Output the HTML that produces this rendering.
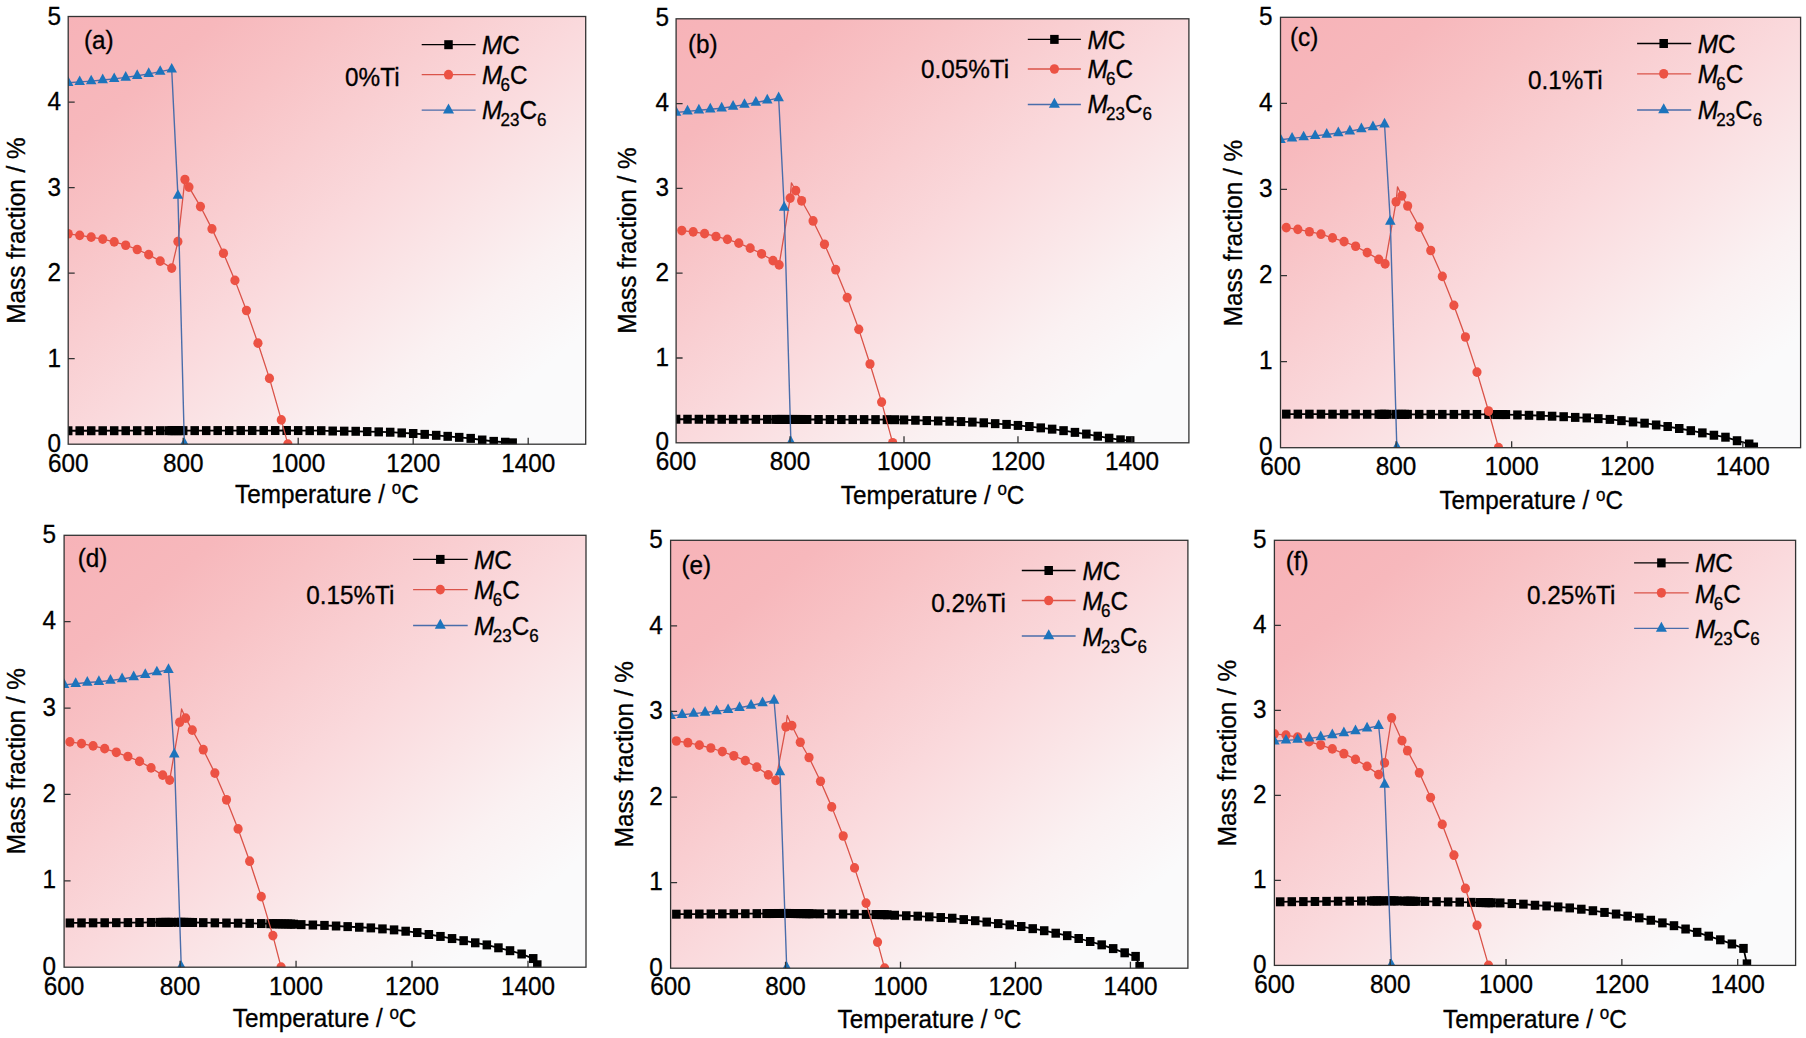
<!DOCTYPE html>
<html><head><meta charset="utf-8"><title>Mass fraction vs temperature</title>
<style>html,body{margin:0;padding:0;background:#fff;}svg{display:block;}</style></head>
<body><svg width="1806" height="1038" viewBox="0 0 1806 1038" font-family="'Liberation Sans', Arial, sans-serif" font-size="24.3" fill="#000">
<style>text{stroke:#000;stroke-width:0.3px;}</style>
<rect width="1806" height="1038" fill="#fff"/>
<defs><linearGradient id="ga" x1="0" y1="0" x2="1" y2="1"><stop offset="0" stop-color="#F7B3B8"/><stop offset="0.15" stop-color="#F7B8BC"/><stop offset="0.27" stop-color="#F8C3C6"/><stop offset="0.5" stop-color="#FAD9DC"/><stop offset="0.74" stop-color="#FAF1F2"/><stop offset="0.87" stop-color="#FAFAFB"/><stop offset="1" stop-color="#FAFAFB"/></linearGradient><clipPath id="ca"><rect x="68.2" y="16.5" width="517.5" height="427.7"/></clipPath></defs>
<rect x="68.2" y="16.5" width="517.5" height="427.7" fill="url(#ga)"/>
<g clip-path="url(#ca)">
<polyline fill="none" stroke="#000" stroke-width="1.8" points="68.2,430.77 79.7,430.76 91.2,430.74 102.7,430.73 114.2,430.72 125.7,430.7 137.2,430.69 148.7,430.68 160.2,430.66 168.82,430.65 171.7,430.65 174.57,430.65 177.45,430.64 180.32,430.64 183.2,430.64 194.7,430.62 206.2,430.61 217.7,430.59 229.2,430.58 240.7,430.57 252.2,430.55 263.7,430.54 275.2,430.53 286.7,430.51 298.2,430.57 309.7,430.63 321.2,430.68 332.7,431.03 344.2,431.16 355.7,431.28 367.2,431.58 378.7,431.88 390.2,432.22 401.7,432.91 413.2,433.51 424.7,434.36 436.2,435.3 447.7,436.33 459.2,437.36 470.7,438.38 482.2,440.01 493.7,441.38 505.2,442.23 512.67,442.83"/>
<g fill="#000"><rect x="63.95" y="426.27" width="8.5" height="9"/><rect x="75.45" y="426.26" width="8.5" height="9"/><rect x="86.95" y="426.24" width="8.5" height="9"/><rect x="98.45" y="426.23" width="8.5" height="9"/><rect x="109.95" y="426.22" width="8.5" height="9"/><rect x="121.45" y="426.2" width="8.5" height="9"/><rect x="132.95" y="426.19" width="8.5" height="9"/><rect x="144.45" y="426.18" width="8.5" height="9"/><rect x="155.95" y="426.16" width="8.5" height="9"/><rect x="164.57" y="426.15" width="8.5" height="9"/><rect x="167.45" y="426.15" width="8.5" height="9"/><rect x="170.32" y="426.15" width="8.5" height="9"/><rect x="173.2" y="426.14" width="8.5" height="9"/><rect x="176.07" y="426.14" width="8.5" height="9"/><rect x="178.95" y="426.14" width="8.5" height="9"/><rect x="190.45" y="426.12" width="8.5" height="9"/><rect x="201.95" y="426.11" width="8.5" height="9"/><rect x="213.45" y="426.09" width="8.5" height="9"/><rect x="224.95" y="426.08" width="8.5" height="9"/><rect x="236.45" y="426.07" width="8.5" height="9"/><rect x="247.95" y="426.05" width="8.5" height="9"/><rect x="259.45" y="426.04" width="8.5" height="9"/><rect x="270.95" y="426.03" width="8.5" height="9"/><rect x="282.45" y="426.01" width="8.5" height="9"/><rect x="293.95" y="426.07" width="8.5" height="9"/><rect x="305.45" y="426.13" width="8.5" height="9"/><rect x="316.95" y="426.18" width="8.5" height="9"/><rect x="328.45" y="426.53" width="8.5" height="9"/><rect x="339.95" y="426.66" width="8.5" height="9"/><rect x="351.45" y="426.78" width="8.5" height="9"/><rect x="362.95" y="427.08" width="8.5" height="9"/><rect x="374.45" y="427.38" width="8.5" height="9"/><rect x="385.95" y="427.72" width="8.5" height="9"/><rect x="397.45" y="428.41" width="8.5" height="9"/><rect x="408.95" y="429.01" width="8.5" height="9"/><rect x="420.45" y="429.86" width="8.5" height="9"/><rect x="431.95" y="430.8" width="8.5" height="9"/><rect x="443.45" y="431.83" width="8.5" height="9"/><rect x="454.95" y="432.86" width="8.5" height="9"/><rect x="466.45" y="433.88" width="8.5" height="9"/><rect x="477.95" y="435.51" width="8.5" height="9"/><rect x="489.45" y="436.88" width="8.5" height="9"/><rect x="500.95" y="437.73" width="8.5" height="9"/><rect x="508.42" y="438.33" width="8.5" height="9"/></g>
<polyline fill="none" stroke="#DA5349" stroke-width="1.3" stroke-linejoin="round" points="68.2,233.77 79.7,235.31 91.2,237.19 102.7,239.08 114.2,241.81 125.7,245.23 137.2,249.51 148.7,254.64 160.2,261.06 171.7,268.07 177.91,241.56 184.93,179.54 188.95,187.07 200.45,206.57 211.95,228.9 223.45,253.27 234.95,280.39 246.45,310.5 257.95,343.18 269.45,378.42 281.3,419.91 287.85,444.2"/>
<g fill="#EC5244"><ellipse cx="68.2" cy="233.77" rx="4.6" ry="4.85"/><ellipse cx="79.7" cy="235.31" rx="4.6" ry="4.85"/><ellipse cx="91.2" cy="237.19" rx="4.6" ry="4.85"/><ellipse cx="102.7" cy="239.08" rx="4.6" ry="4.85"/><ellipse cx="114.2" cy="241.81" rx="4.6" ry="4.85"/><ellipse cx="125.7" cy="245.23" rx="4.6" ry="4.85"/><ellipse cx="137.2" cy="249.51" rx="4.6" ry="4.85"/><ellipse cx="148.7" cy="254.64" rx="4.6" ry="4.85"/><ellipse cx="160.2" cy="261.06" rx="4.6" ry="4.85"/><ellipse cx="171.7" cy="268.07" rx="4.6" ry="4.85"/><ellipse cx="177.91" cy="241.56" rx="4.6" ry="4.85"/><ellipse cx="184.93" cy="179.54" rx="4.6" ry="4.85"/><ellipse cx="188.95" cy="187.07" rx="4.6" ry="4.85"/><ellipse cx="200.45" cy="206.57" rx="4.6" ry="4.85"/><ellipse cx="211.95" cy="228.9" rx="4.6" ry="4.85"/><ellipse cx="223.45" cy="253.27" rx="4.6" ry="4.85"/><ellipse cx="234.95" cy="280.39" rx="4.6" ry="4.85"/><ellipse cx="246.45" cy="310.5" rx="4.6" ry="4.85"/><ellipse cx="257.95" cy="343.18" rx="4.6" ry="4.85"/><ellipse cx="269.45" cy="378.42" rx="4.6" ry="4.85"/><ellipse cx="281.3" cy="419.91" rx="4.6" ry="4.85"/><ellipse cx="287.85" cy="444.2" rx="4.6" ry="4.85"/></g>
<polyline fill="none" stroke="#4A6DAA" stroke-width="1.4" points="68.2,82.73 79.7,81.87 91.2,81.1 102.7,80.07 114.2,78.88 125.7,77.42 137.2,75.8 148.7,73.83 160.2,71.61 171.7,69.38 177.91,195.64 184.35,443.68"/>
<g fill="#1D74BC"><path d="M68.2 76.26L73.45 85.96L62.95 85.96Z"/><path d="M79.7 75.4L84.95 85.1L74.45 85.1Z"/><path d="M91.2 74.63L96.45 84.33L85.95 84.33Z"/><path d="M102.7 73.61L107.95 83.31L97.45 83.31Z"/><path d="M114.2 72.41L119.45 82.11L108.95 82.11Z"/><path d="M125.7 70.96L130.95 80.66L120.45 80.66Z"/><path d="M137.2 69.33L142.45 79.03L131.95 79.03Z"/><path d="M148.7 67.36L153.95 77.06L143.45 77.06Z"/><path d="M160.2 65.14L165.45 74.84L154.95 74.84Z"/><path d="M171.7 62.91L176.95 72.61L166.45 72.61Z"/><path d="M177.91 189.17L183.16 198.87L172.66 198.87Z"/><path d="M184.35 437.21L189.6 446.91L179.1 446.91Z"/></g>
</g>
<path d="M183.2 444.2V437.7 M298.2 444.2V437.7 M413.2 444.2V437.7 M528.2 444.2V437.7 M68.2 358.66H74.7 M68.2 273.12H74.7 M68.2 187.58H74.7 M68.2 102.04H74.7" stroke="#333333" stroke-width="1.3" fill="none"/>
<rect x="68.2" y="16.5" width="517.5" height="427.7" fill="none" stroke="#333333" stroke-width="1.3"/>
<g><text transform="translate(61,452.4) scale(1,1.04)" text-anchor="end">0</text><text transform="translate(61,366.86) scale(1,1.04)" text-anchor="end">1</text><text transform="translate(61,281.32) scale(1,1.04)" text-anchor="end">2</text><text transform="translate(61,195.78) scale(1,1.04)" text-anchor="end">3</text><text transform="translate(61,110.24) scale(1,1.04)" text-anchor="end">4</text><text transform="translate(61,24.7) scale(1,1.04)" text-anchor="end">5</text><text transform="translate(68.2,471.9) scale(1,1.04)" text-anchor="middle">600</text><text transform="translate(183.2,471.9) scale(1,1.04)" text-anchor="middle">800</text><text transform="translate(298.2,471.9) scale(1,1.04)" text-anchor="middle">1000</text><text transform="translate(413.2,471.9) scale(1,1.04)" text-anchor="middle">1200</text><text transform="translate(528.2,471.9) scale(1,1.04)" text-anchor="middle">1400</text></g>
<text transform="translate(326.9,502.7) scale(1,1.04)" text-anchor="middle">Temperature / <tspan font-size="17" dy="-8">o</tspan><tspan dy="8">C</tspan></text>
<text transform="translate(25,230.6) rotate(-90) scale(1,1.04)" text-anchor="middle">Mass fraction / %</text>
<text transform="translate(84,48.5) scale(1,1.04)">(a)</text>
<text transform="translate(345.1,85.9) scale(1,1.04)">0%Ti</text>
<line x1="421.7" y1="44.7" x2="475.6" y2="44.7" stroke="#000000" stroke-width="1.3"/>
<g fill="#000"><rect x="444.25" y="40.2" width="8.5" height="9"/></g>
<line x1="421.7" y1="74.7" x2="475.6" y2="74.7" stroke="#DA5349" stroke-width="1.3"/>
<g fill="#EC5244"><ellipse cx="448.5" cy="74.7" rx="4.6" ry="4.85"/></g>
<line x1="421.7" y1="110.1" x2="475.6" y2="110.1" stroke="#4A6DAA" stroke-width="1.3"/>
<g fill="#1D74BC"><path d="M448.5 103.43L454 113.43L443 113.43Z"/></g>
<text transform="translate(481.9,53.6) scale(1,1.04)"><tspan font-style="italic">M</tspan>C</text>
<text transform="translate(481.9,83.8) scale(1,1.04)"><tspan font-style="italic">M</tspan><tspan font-size="17" dx="-1.6" dy="6.8">6</tspan><tspan dy="-6.8">C</tspan></text>
<text transform="translate(481.9,119.4) scale(1,1.04)"><tspan font-style="italic">M</tspan><tspan font-size="17" dx="-1.6" dy="6.8">23</tspan><tspan dy="-6.8">C</tspan><tspan font-size="17" dy="6.8">6</tspan></text>
<defs><linearGradient id="gb" x1="0" y1="0" x2="1" y2="1"><stop offset="0" stop-color="#F7B3B8"/><stop offset="0.15" stop-color="#F7B8BC"/><stop offset="0.27" stop-color="#F8C3C6"/><stop offset="0.5" stop-color="#FAD9DC"/><stop offset="0.74" stop-color="#FAF1F2"/><stop offset="0.87" stop-color="#FAFAFB"/><stop offset="1" stop-color="#FAFAFB"/></linearGradient><clipPath id="cb"><rect x="676.1" y="18.8" width="512.8" height="424"/></clipPath></defs>
<rect x="676.1" y="18.8" width="512.8" height="424" fill="url(#gb)"/>
<g clip-path="url(#cb)">
<polyline fill="none" stroke="#000" stroke-width="1.8" points="676.1,419.23 687.5,419.25 698.89,419.27 710.29,419.29 721.68,419.31 733.08,419.34 744.47,419.36 755.87,419.38 767.26,419.4 775.81,419.42 778.66,419.43 781.51,419.43 784.36,419.44 787.21,419.44 790.06,419.45 792.9,419.45 795.75,419.46 798.6,419.47 801.45,419.47 807.15,419.48 818.54,419.5 829.94,419.53 841.34,419.55 852.73,419.57 864.13,419.59 875.52,419.62 886.92,419.64 894.89,419.7 904.01,419.9 915.41,420.24 926.8,420.58 938.2,420.92 949.59,421.26 960.99,421.6 972.38,422.11 983.78,422.79 995.18,423.64 1006.57,424.4 1017.97,425.42 1029.36,426.52 1040.76,427.88 1052.15,429.15 1063.55,430.67 1074.94,432.37 1086.34,434.07 1097.74,436.19 1109.13,438.22 1120.53,439.83 1130.21,440.68"/>
<g fill="#000"><rect x="671.85" y="414.73" width="8.5" height="9"/><rect x="683.25" y="414.75" width="8.5" height="9"/><rect x="694.64" y="414.77" width="8.5" height="9"/><rect x="706.04" y="414.79" width="8.5" height="9"/><rect x="717.43" y="414.81" width="8.5" height="9"/><rect x="728.83" y="414.84" width="8.5" height="9"/><rect x="740.22" y="414.86" width="8.5" height="9"/><rect x="751.62" y="414.88" width="8.5" height="9"/><rect x="763.01" y="414.9" width="8.5" height="9"/><rect x="771.56" y="414.92" width="8.5" height="9"/><rect x="774.41" y="414.93" width="8.5" height="9"/><rect x="777.26" y="414.93" width="8.5" height="9"/><rect x="780.11" y="414.94" width="8.5" height="9"/><rect x="782.96" y="414.94" width="8.5" height="9"/><rect x="785.81" y="414.95" width="8.5" height="9"/><rect x="788.65" y="414.95" width="8.5" height="9"/><rect x="791.5" y="414.96" width="8.5" height="9"/><rect x="794.35" y="414.97" width="8.5" height="9"/><rect x="797.2" y="414.97" width="8.5" height="9"/><rect x="802.9" y="414.98" width="8.5" height="9"/><rect x="814.29" y="415" width="8.5" height="9"/><rect x="825.69" y="415.03" width="8.5" height="9"/><rect x="837.09" y="415.05" width="8.5" height="9"/><rect x="848.48" y="415.07" width="8.5" height="9"/><rect x="859.88" y="415.09" width="8.5" height="9"/><rect x="871.27" y="415.12" width="8.5" height="9"/><rect x="882.67" y="415.14" width="8.5" height="9"/><rect x="890.64" y="415.2" width="8.5" height="9"/><rect x="899.76" y="415.4" width="8.5" height="9"/><rect x="911.16" y="415.74" width="8.5" height="9"/><rect x="922.55" y="416.08" width="8.5" height="9"/><rect x="933.95" y="416.42" width="8.5" height="9"/><rect x="945.34" y="416.76" width="8.5" height="9"/><rect x="956.74" y="417.1" width="8.5" height="9"/><rect x="968.13" y="417.61" width="8.5" height="9"/><rect x="979.53" y="418.29" width="8.5" height="9"/><rect x="990.93" y="419.14" width="8.5" height="9"/><rect x="1002.32" y="419.9" width="8.5" height="9"/><rect x="1013.72" y="420.92" width="8.5" height="9"/><rect x="1025.11" y="422.02" width="8.5" height="9"/><rect x="1036.51" y="423.38" width="8.5" height="9"/><rect x="1047.9" y="424.65" width="8.5" height="9"/><rect x="1059.3" y="426.17" width="8.5" height="9"/><rect x="1070.69" y="427.87" width="8.5" height="9"/><rect x="1082.09" y="429.57" width="8.5" height="9"/><rect x="1093.49" y="431.69" width="8.5" height="9"/><rect x="1104.88" y="433.72" width="8.5" height="9"/><rect x="1116.28" y="435.33" width="8.5" height="9"/><rect x="1125.96" y="436.18" width="8.5" height="9"/></g>
<polyline fill="none" stroke="#DA5349" stroke-width="1.3" stroke-linejoin="round" points="681.8,230.55 693.19,231.82 704.59,233.68 715.98,236.48 727.38,239.36 738.78,243.18 750.17,248.1 761.57,253.78 772.96,260.56 779.12,264.89 790.17,198.07 791.42,182.8 795.75,190.69 801.62,200.78 813.07,220.96 824.47,244.28 835.69,269.72 847.2,297.62 858.77,329.34 870,364.02 881.62,402.1 892.67,442.8"/>
<g fill="#EC5244"><ellipse cx="681.8" cy="230.55" rx="4.6" ry="4.85"/><ellipse cx="693.19" cy="231.82" rx="4.6" ry="4.85"/><ellipse cx="704.59" cy="233.68" rx="4.6" ry="4.85"/><ellipse cx="715.98" cy="236.48" rx="4.6" ry="4.85"/><ellipse cx="727.38" cy="239.36" rx="4.6" ry="4.85"/><ellipse cx="738.78" cy="243.18" rx="4.6" ry="4.85"/><ellipse cx="750.17" cy="248.1" rx="4.6" ry="4.85"/><ellipse cx="761.57" cy="253.78" rx="4.6" ry="4.85"/><ellipse cx="772.96" cy="260.56" rx="4.6" ry="4.85"/><ellipse cx="779.12" cy="264.89" rx="4.6" ry="4.85"/><ellipse cx="790.17" cy="198.07" rx="4.6" ry="4.85"/><ellipse cx="795.75" cy="190.69" rx="4.6" ry="4.85"/><ellipse cx="801.62" cy="200.78" rx="4.6" ry="4.85"/><ellipse cx="813.07" cy="220.96" rx="4.6" ry="4.85"/><ellipse cx="824.47" cy="244.28" rx="4.6" ry="4.85"/><ellipse cx="835.69" cy="269.72" rx="4.6" ry="4.85"/><ellipse cx="847.2" cy="297.62" rx="4.6" ry="4.85"/><ellipse cx="858.77" cy="329.34" rx="4.6" ry="4.85"/><ellipse cx="870" cy="364.02" rx="4.6" ry="4.85"/><ellipse cx="881.62" cy="402.1" rx="4.6" ry="4.85"/><ellipse cx="892.67" cy="442.8" rx="4.6" ry="4.85"/></g>
<polyline fill="none" stroke="#4A6DAA" stroke-width="1.4" points="676.1,112.44 687.5,111.34 698.89,110.32 710.29,109.22 721.68,108.2 733.08,106.51 744.47,104.64 755.87,102.44 767.26,100.32 778.66,98.03 784.19,207.42 790.91,442.3"/>
<g fill="#1D74BC"><path d="M676.1 105.98L681.35 115.68L670.85 115.68Z"/><path d="M687.5 104.87L692.75 114.57L682.25 114.57Z"/><path d="M698.89 103.86L704.14 113.56L693.64 113.56Z"/><path d="M710.29 102.75L715.54 112.45L705.04 112.45Z"/><path d="M721.68 101.74L726.93 111.44L716.43 111.44Z"/><path d="M733.08 100.04L738.33 109.74L727.83 109.74Z"/><path d="M744.47 98.17L749.72 107.87L739.22 107.87Z"/><path d="M755.87 95.97L761.12 105.67L750.62 105.67Z"/><path d="M767.26 93.85L772.51 103.55L762.01 103.55Z"/><path d="M778.66 91.56L783.91 101.26L773.41 101.26Z"/><path d="M784.19 200.95L789.44 210.65L778.94 210.65Z"/><path d="M790.91 435.83L796.16 445.53L785.66 445.53Z"/></g>
</g>
<path d="M790.06 442.8V436.3 M904.01 442.8V436.3 M1017.97 442.8V436.3 M1131.92 442.8V436.3 M676.1 358H682.6 M676.1 273.2H682.6 M676.1 188.4H682.6 M676.1 103.6H682.6" stroke="#333333" stroke-width="1.3" fill="none"/>
<rect x="676.1" y="18.8" width="512.8" height="424" fill="none" stroke="#333333" stroke-width="1.3"/>
<g><text transform="translate(669,450.4) scale(1,1.04)" text-anchor="end">0</text><text transform="translate(669,365.6) scale(1,1.04)" text-anchor="end">1</text><text transform="translate(669,280.8) scale(1,1.04)" text-anchor="end">2</text><text transform="translate(669,196) scale(1,1.04)" text-anchor="end">3</text><text transform="translate(669,111.2) scale(1,1.04)" text-anchor="end">4</text><text transform="translate(669,26.4) scale(1,1.04)" text-anchor="end">5</text><text transform="translate(676.1,469.7) scale(1,1.04)" text-anchor="middle">600</text><text transform="translate(790.06,469.7) scale(1,1.04)" text-anchor="middle">800</text><text transform="translate(904.01,469.7) scale(1,1.04)" text-anchor="middle">1000</text><text transform="translate(1017.97,469.7) scale(1,1.04)" text-anchor="middle">1200</text><text transform="translate(1131.92,469.7) scale(1,1.04)" text-anchor="middle">1400</text></g>
<text transform="translate(932.6,503.5) scale(1,1.04)" text-anchor="middle">Temperature / <tspan font-size="17" dy="-8">o</tspan><tspan dy="8">C</tspan></text>
<text transform="translate(636.4,240.5) rotate(-90) scale(1,1.04)" text-anchor="middle">Mass fraction / %</text>
<text transform="translate(688,53.1) scale(1,1.04)">(b)</text>
<text transform="translate(920.9,78.3) scale(1,1.04)">0.05%Ti</text>
<line x1="1027.8" y1="39.4" x2="1080.9" y2="39.4" stroke="#000000" stroke-width="1.3"/>
<g fill="#000"><rect x="1050.15" y="34.9" width="8.5" height="9"/></g>
<line x1="1027.8" y1="69" x2="1080.9" y2="69" stroke="#DA5349" stroke-width="1.3"/>
<g fill="#EC5244"><ellipse cx="1054.4" cy="69" rx="4.6" ry="4.85"/></g>
<line x1="1027.8" y1="104.5" x2="1080.9" y2="104.5" stroke="#4A6DAA" stroke-width="1.3"/>
<g fill="#1D74BC"><path d="M1054.4 97.83L1059.9 107.83L1048.9 107.83Z"/></g>
<text transform="translate(1087.4,48.5) scale(1,1.04)"><tspan font-style="italic">M</tspan>C</text>
<text transform="translate(1087.4,78.1) scale(1,1.04)"><tspan font-style="italic">M</tspan><tspan font-size="17" dx="-1.6" dy="6.8">6</tspan><tspan dy="-6.8">C</tspan></text>
<text transform="translate(1087.4,112.7) scale(1,1.04)"><tspan font-style="italic">M</tspan><tspan font-size="17" dx="-1.6" dy="6.8">23</tspan><tspan dy="-6.8">C</tspan><tspan font-size="17" dy="6.8">6</tspan></text>
<defs><linearGradient id="gc" x1="0" y1="0" x2="1" y2="1"><stop offset="0" stop-color="#F7B3B8"/><stop offset="0.15" stop-color="#F7B8BC"/><stop offset="0.27" stop-color="#F8C3C6"/><stop offset="0.5" stop-color="#FAD9DC"/><stop offset="0.74" stop-color="#FAF1F2"/><stop offset="0.87" stop-color="#FAFAFB"/><stop offset="1" stop-color="#FAFAFB"/></linearGradient><clipPath id="cc"><rect x="1280.5" y="17.3" width="520.1" height="430.4"/></clipPath></defs>
<rect x="1280.5" y="17.3" width="520.1" height="430.4" fill="url(#gc)"/>
<g clip-path="url(#cc)">
<polyline fill="none" stroke="#000" stroke-width="1.8" points="1286.28,414.13 1297.84,414.15 1309.39,414.17 1320.95,414.19 1332.51,414.21 1344.07,414.23 1355.63,414.25 1367.18,414.27 1378.74,414.29 1381.63,414.29 1384.52,414.3 1387.41,414.3 1396.08,414.32 1398.97,414.32 1401.86,414.33 1404.75,414.33 1407.64,414.34 1419.19,414.36 1430.75,414.37 1442.31,414.39 1453.87,414.41 1465.42,414.43 1476.98,414.45 1488.54,414.47 1497.21,414.52 1500.1,414.53 1502.99,414.54 1505.88,414.56 1517.43,414.92 1528.99,415.27 1540.55,415.7 1552.11,416.22 1563.67,416.71 1575.22,417.4 1586.78,417.95 1598.34,418.64 1609.9,419.38 1621.45,420.67 1633.01,421.94 1644.57,423.17 1656.13,424.97 1667.69,426.52 1679.24,428.5 1690.8,430.66 1702.36,432.89 1713.92,435.22 1725.47,437.2 1737.03,440.73 1749.17,444 1753.79,447.01"/>
<g fill="#000"><rect x="1282.03" y="409.63" width="8.5" height="9"/><rect x="1293.59" y="409.65" width="8.5" height="9"/><rect x="1305.14" y="409.67" width="8.5" height="9"/><rect x="1316.7" y="409.69" width="8.5" height="9"/><rect x="1328.26" y="409.71" width="8.5" height="9"/><rect x="1339.82" y="409.73" width="8.5" height="9"/><rect x="1351.38" y="409.75" width="8.5" height="9"/><rect x="1362.93" y="409.77" width="8.5" height="9"/><rect x="1374.49" y="409.79" width="8.5" height="9"/><rect x="1377.38" y="409.79" width="8.5" height="9"/><rect x="1380.27" y="409.8" width="8.5" height="9"/><rect x="1383.16" y="409.8" width="8.5" height="9"/><rect x="1391.83" y="409.82" width="8.5" height="9"/><rect x="1394.72" y="409.82" width="8.5" height="9"/><rect x="1397.61" y="409.83" width="8.5" height="9"/><rect x="1400.5" y="409.83" width="8.5" height="9"/><rect x="1403.39" y="409.84" width="8.5" height="9"/><rect x="1414.94" y="409.86" width="8.5" height="9"/><rect x="1426.5" y="409.87" width="8.5" height="9"/><rect x="1438.06" y="409.89" width="8.5" height="9"/><rect x="1449.62" y="409.91" width="8.5" height="9"/><rect x="1461.17" y="409.93" width="8.5" height="9"/><rect x="1472.73" y="409.95" width="8.5" height="9"/><rect x="1484.29" y="409.97" width="8.5" height="9"/><rect x="1492.96" y="410.02" width="8.5" height="9"/><rect x="1495.85" y="410.03" width="8.5" height="9"/><rect x="1498.74" y="410.04" width="8.5" height="9"/><rect x="1501.63" y="410.06" width="8.5" height="9"/><rect x="1513.18" y="410.42" width="8.5" height="9"/><rect x="1524.74" y="410.77" width="8.5" height="9"/><rect x="1536.3" y="411.2" width="8.5" height="9"/><rect x="1547.86" y="411.72" width="8.5" height="9"/><rect x="1559.42" y="412.21" width="8.5" height="9"/><rect x="1570.97" y="412.9" width="8.5" height="9"/><rect x="1582.53" y="413.45" width="8.5" height="9"/><rect x="1594.09" y="414.14" width="8.5" height="9"/><rect x="1605.65" y="414.88" width="8.5" height="9"/><rect x="1617.2" y="416.17" width="8.5" height="9"/><rect x="1628.76" y="417.44" width="8.5" height="9"/><rect x="1640.32" y="418.67" width="8.5" height="9"/><rect x="1651.88" y="420.47" width="8.5" height="9"/><rect x="1663.44" y="422.02" width="8.5" height="9"/><rect x="1674.99" y="424" width="8.5" height="9"/><rect x="1686.55" y="426.16" width="8.5" height="9"/><rect x="1698.11" y="428.39" width="8.5" height="9"/><rect x="1709.67" y="430.72" width="8.5" height="9"/><rect x="1721.22" y="432.7" width="8.5" height="9"/><rect x="1732.78" y="436.23" width="8.5" height="9"/><rect x="1744.92" y="439.5" width="8.5" height="9"/><rect x="1749.54" y="442.51" width="8.5" height="9"/></g>
<polyline fill="none" stroke="#DA5349" stroke-width="1.3" stroke-linejoin="round" points="1286.28,227.59 1297.84,229.32 1309.39,231.73 1320.95,234.22 1332.51,237.84 1344.07,241.62 1355.63,246.27 1367.18,252.56 1378.74,259.36 1385.1,263.92 1396.08,201.77 1397.52,186.88 1401.86,195.83 1407.64,205.99 1419.19,227.16 1430.75,250.49 1442.31,276.4 1453.87,305.41 1465.42,337 1476.98,372.12 1488.54,411.03 1498.48,447.7"/>
<g fill="#EC5244"><ellipse cx="1286.28" cy="227.59" rx="4.6" ry="4.85"/><ellipse cx="1297.84" cy="229.32" rx="4.6" ry="4.85"/><ellipse cx="1309.39" cy="231.73" rx="4.6" ry="4.85"/><ellipse cx="1320.95" cy="234.22" rx="4.6" ry="4.85"/><ellipse cx="1332.51" cy="237.84" rx="4.6" ry="4.85"/><ellipse cx="1344.07" cy="241.62" rx="4.6" ry="4.85"/><ellipse cx="1355.63" cy="246.27" rx="4.6" ry="4.85"/><ellipse cx="1367.18" cy="252.56" rx="4.6" ry="4.85"/><ellipse cx="1378.74" cy="259.36" rx="4.6" ry="4.85"/><ellipse cx="1385.1" cy="263.92" rx="4.6" ry="4.85"/><ellipse cx="1396.08" cy="201.77" rx="4.6" ry="4.85"/><ellipse cx="1401.86" cy="195.83" rx="4.6" ry="4.85"/><ellipse cx="1407.64" cy="205.99" rx="4.6" ry="4.85"/><ellipse cx="1419.19" cy="227.16" rx="4.6" ry="4.85"/><ellipse cx="1430.75" cy="250.49" rx="4.6" ry="4.85"/><ellipse cx="1442.31" cy="276.4" rx="4.6" ry="4.85"/><ellipse cx="1453.87" cy="305.41" rx="4.6" ry="4.85"/><ellipse cx="1465.42" cy="337" rx="4.6" ry="4.85"/><ellipse cx="1476.98" cy="372.12" rx="4.6" ry="4.85"/><ellipse cx="1488.54" cy="411.03" rx="4.6" ry="4.85"/><ellipse cx="1498.48" cy="447.7" rx="4.6" ry="4.85"/></g>
<polyline fill="none" stroke="#4A6DAA" stroke-width="1.4" points="1280.5,139.81 1292.06,138.34 1303.62,137.14 1315.17,135.85 1326.73,134.56 1338.29,133.01 1349.85,131.28 1361.4,129.05 1372.96,126.89 1384.52,124.31 1390.3,221.41 1396.83,447.16"/>
<g fill="#1D74BC"><path d="M1280.5 133.34L1285.75 143.04L1275.25 143.04Z"/><path d="M1292.06 131.88L1297.31 141.58L1286.81 141.58Z"/><path d="M1303.62 130.67L1308.87 140.37L1298.37 140.37Z"/><path d="M1315.17 129.38L1320.42 139.08L1309.92 139.08Z"/><path d="M1326.73 128.09L1331.98 137.79L1321.48 137.79Z"/><path d="M1338.29 126.54L1343.54 136.24L1333.04 136.24Z"/><path d="M1349.85 124.82L1355.1 134.52L1344.6 134.52Z"/><path d="M1361.4 122.58L1366.65 132.28L1356.15 132.28Z"/><path d="M1372.96 120.43L1378.21 130.13L1367.71 130.13Z"/><path d="M1384.52 117.84L1389.77 127.54L1379.27 127.54Z"/><path d="M1390.3 214.94L1395.55 224.64L1385.05 224.64Z"/><path d="M1396.83 440.7L1402.08 450.4L1391.58 450.4Z"/></g>
</g>
<path d="M1396.08 447.7V441.2 M1511.66 447.7V441.2 M1627.23 447.7V441.2 M1742.81 447.7V441.2 M1280.5 361.62H1287 M1280.5 275.54H1287 M1280.5 189.46H1287 M1280.5 103.38H1287" stroke="#333333" stroke-width="1.3" fill="none"/>
<rect x="1280.5" y="17.3" width="520.1" height="430.4" fill="none" stroke="#333333" stroke-width="1.3"/>
<g><text transform="translate(1272.5,455.4) scale(1,1.04)" text-anchor="end">0</text><text transform="translate(1272.5,369.32) scale(1,1.04)" text-anchor="end">1</text><text transform="translate(1272.5,283.24) scale(1,1.04)" text-anchor="end">2</text><text transform="translate(1272.5,197.16) scale(1,1.04)" text-anchor="end">3</text><text transform="translate(1272.5,111.08) scale(1,1.04)" text-anchor="end">4</text><text transform="translate(1272.5,25) scale(1,1.04)" text-anchor="end">5</text><text transform="translate(1280.5,475.3) scale(1,1.04)" text-anchor="middle">600</text><text transform="translate(1396.08,475.3) scale(1,1.04)" text-anchor="middle">800</text><text transform="translate(1511.66,475.3) scale(1,1.04)" text-anchor="middle">1000</text><text transform="translate(1627.23,475.3) scale(1,1.04)" text-anchor="middle">1200</text><text transform="translate(1742.81,475.3) scale(1,1.04)" text-anchor="middle">1400</text></g>
<text transform="translate(1531.2,509.1) scale(1,1.04)" text-anchor="middle">Temperature / <tspan font-size="17" dy="-8">o</tspan><tspan dy="8">C</tspan></text>
<text transform="translate(1241.9,233) rotate(-90) scale(1,1.04)" text-anchor="middle">Mass fraction / %</text>
<text transform="translate(1290,46.2) scale(1,1.04)">(c)</text>
<text transform="translate(1527.9,89) scale(1,1.04)">0.1%Ti</text>
<line x1="1637.1" y1="43.5" x2="1691.2" y2="43.5" stroke="#000000" stroke-width="1.3"/>
<g fill="#000"><rect x="1659.45" y="39" width="8.5" height="9"/></g>
<line x1="1637.1" y1="73.8" x2="1691.2" y2="73.8" stroke="#DA5349" stroke-width="1.3"/>
<g fill="#EC5244"><ellipse cx="1663.7" cy="73.8" rx="4.6" ry="4.85"/></g>
<line x1="1637.1" y1="110" x2="1691.2" y2="110" stroke="#4A6DAA" stroke-width="1.3"/>
<g fill="#1D74BC"><path d="M1663.7 103.33L1669.2 113.33L1658.2 113.33Z"/></g>
<text transform="translate(1697.7,52.6) scale(1,1.04)"><tspan font-style="italic">M</tspan>C</text>
<text transform="translate(1697.7,82.8) scale(1,1.04)"><tspan font-style="italic">M</tspan><tspan font-size="17" dx="-1.6" dy="6.8">6</tspan><tspan dy="-6.8">C</tspan></text>
<text transform="translate(1697.7,118.7) scale(1,1.04)"><tspan font-style="italic">M</tspan><tspan font-size="17" dx="-1.6" dy="6.8">23</tspan><tspan dy="-6.8">C</tspan><tspan font-size="17" dy="6.8">6</tspan></text>
<defs><linearGradient id="gd" x1="0" y1="0" x2="1" y2="1"><stop offset="0" stop-color="#F7B3B8"/><stop offset="0.15" stop-color="#F7B8BC"/><stop offset="0.27" stop-color="#F8C3C6"/><stop offset="0.5" stop-color="#FAD9DC"/><stop offset="0.74" stop-color="#FAF1F2"/><stop offset="0.87" stop-color="#FAFAFB"/><stop offset="1" stop-color="#FAFAFB"/></linearGradient><clipPath id="cd"><rect x="64.1" y="535.3" width="521.9" height="431.9"/></clipPath></defs>
<rect x="64.1" y="535.3" width="521.9" height="431.9" fill="url(#gd)"/>
<g clip-path="url(#cd)">
<polyline fill="none" stroke="#000" stroke-width="1.8" points="69.9,922.97 81.5,922.9 93.09,922.83 104.69,922.76 116.29,922.68 127.89,922.61 139.49,922.54 151.08,922.46 159.78,922.41 162.68,922.39 165.58,922.37 168.48,922.36 171.38,922.34 178.34,922.29 181.24,922.3 184.14,922.35 187.04,922.39 189.94,922.44 192.84,922.48 203.27,922.65 214.87,922.83 226.47,923.01 238.07,923.19 249.66,923.37 261.26,923.56 270.54,923.7 273.44,923.75 276.34,923.79 279.24,923.84 282.14,923.88 285.04,923.93 287.94,923.97 290.84,924.04 293.74,924.2 301.27,924.61 312.87,925 324.47,925.39 336.07,926 347.67,926.6 359.26,927.25 370.86,927.9 382.46,928.89 394.06,929.88 405.65,931.22 417.25,932.56 428.85,934.5 440.45,936.44 452.05,938.56 463.64,940.68 475.24,942.8 486.84,944.91 498.44,947.81 510.03,950.7 521.63,953.98 533.23,958.56 537.29,964.78"/>
<g fill="#000"><rect x="65.65" y="918.47" width="8.5" height="9"/><rect x="77.25" y="918.4" width="8.5" height="9"/><rect x="88.84" y="918.33" width="8.5" height="9"/><rect x="100.44" y="918.26" width="8.5" height="9"/><rect x="112.04" y="918.18" width="8.5" height="9"/><rect x="123.64" y="918.11" width="8.5" height="9"/><rect x="135.24" y="918.04" width="8.5" height="9"/><rect x="146.83" y="917.96" width="8.5" height="9"/><rect x="155.53" y="917.91" width="8.5" height="9"/><rect x="158.43" y="917.89" width="8.5" height="9"/><rect x="161.33" y="917.87" width="8.5" height="9"/><rect x="164.23" y="917.86" width="8.5" height="9"/><rect x="167.13" y="917.84" width="8.5" height="9"/><rect x="174.09" y="917.79" width="8.5" height="9"/><rect x="176.99" y="917.8" width="8.5" height="9"/><rect x="179.89" y="917.85" width="8.5" height="9"/><rect x="182.79" y="917.89" width="8.5" height="9"/><rect x="185.69" y="917.94" width="8.5" height="9"/><rect x="188.59" y="917.98" width="8.5" height="9"/><rect x="199.02" y="918.15" width="8.5" height="9"/><rect x="210.62" y="918.33" width="8.5" height="9"/><rect x="222.22" y="918.51" width="8.5" height="9"/><rect x="233.82" y="918.69" width="8.5" height="9"/><rect x="245.41" y="918.87" width="8.5" height="9"/><rect x="257.01" y="919.06" width="8.5" height="9"/><rect x="266.29" y="919.2" width="8.5" height="9"/><rect x="269.19" y="919.25" width="8.5" height="9"/><rect x="272.09" y="919.29" width="8.5" height="9"/><rect x="274.99" y="919.34" width="8.5" height="9"/><rect x="277.89" y="919.38" width="8.5" height="9"/><rect x="280.79" y="919.43" width="8.5" height="9"/><rect x="283.69" y="919.47" width="8.5" height="9"/><rect x="286.59" y="919.54" width="8.5" height="9"/><rect x="289.49" y="919.7" width="8.5" height="9"/><rect x="297.02" y="920.11" width="8.5" height="9"/><rect x="308.62" y="920.5" width="8.5" height="9"/><rect x="320.22" y="920.89" width="8.5" height="9"/><rect x="331.82" y="921.5" width="8.5" height="9"/><rect x="343.42" y="922.1" width="8.5" height="9"/><rect x="355.01" y="922.75" width="8.5" height="9"/><rect x="366.61" y="923.4" width="8.5" height="9"/><rect x="378.21" y="924.39" width="8.5" height="9"/><rect x="389.81" y="925.38" width="8.5" height="9"/><rect x="401.4" y="926.72" width="8.5" height="9"/><rect x="413" y="928.06" width="8.5" height="9"/><rect x="424.6" y="930" width="8.5" height="9"/><rect x="436.2" y="931.94" width="8.5" height="9"/><rect x="447.8" y="934.06" width="8.5" height="9"/><rect x="459.39" y="936.18" width="8.5" height="9"/><rect x="470.99" y="938.3" width="8.5" height="9"/><rect x="482.59" y="940.41" width="8.5" height="9"/><rect x="494.19" y="943.31" width="8.5" height="9"/><rect x="505.78" y="946.2" width="8.5" height="9"/><rect x="517.38" y="949.48" width="8.5" height="9"/><rect x="528.98" y="954.06" width="8.5" height="9"/><rect x="533.04" y="960.28" width="8.5" height="9"/></g>
<polyline fill="none" stroke="#DA5349" stroke-width="1.3" stroke-linejoin="round" points="69.9,741.92 81.5,743.65 93.09,745.89 104.69,748.66 116.29,752.29 127.89,756.52 139.49,761.36 151.08,767.83 162.68,775.18 169.64,780.1 179.67,722.23 181.59,709.01 185.59,718.17 192.26,730.17 203.27,749.7 214.87,773.1 226.47,799.8 238.07,828.91 249.66,861.21 261.26,896.63 272.86,935.58 281.09,967.2"/>
<g fill="#EC5244"><ellipse cx="69.9" cy="741.92" rx="4.6" ry="4.85"/><ellipse cx="81.5" cy="743.65" rx="4.6" ry="4.85"/><ellipse cx="93.09" cy="745.89" rx="4.6" ry="4.85"/><ellipse cx="104.69" cy="748.66" rx="4.6" ry="4.85"/><ellipse cx="116.29" cy="752.29" rx="4.6" ry="4.85"/><ellipse cx="127.89" cy="756.52" rx="4.6" ry="4.85"/><ellipse cx="139.49" cy="761.36" rx="4.6" ry="4.85"/><ellipse cx="151.08" cy="767.83" rx="4.6" ry="4.85"/><ellipse cx="162.68" cy="775.18" rx="4.6" ry="4.85"/><ellipse cx="169.64" cy="780.1" rx="4.6" ry="4.85"/><ellipse cx="179.67" cy="722.23" rx="4.6" ry="4.85"/><ellipse cx="185.59" cy="718.17" rx="4.6" ry="4.85"/><ellipse cx="192.26" cy="730.17" rx="4.6" ry="4.85"/><ellipse cx="203.27" cy="749.7" rx="4.6" ry="4.85"/><ellipse cx="214.87" cy="773.1" rx="4.6" ry="4.85"/><ellipse cx="226.47" cy="799.8" rx="4.6" ry="4.85"/><ellipse cx="238.07" cy="828.91" rx="4.6" ry="4.85"/><ellipse cx="249.66" cy="861.21" rx="4.6" ry="4.85"/><ellipse cx="261.26" cy="896.63" rx="4.6" ry="4.85"/><ellipse cx="272.86" cy="935.58" rx="4.6" ry="4.85"/><ellipse cx="281.09" cy="967.2" rx="4.6" ry="4.85"/></g>
<polyline fill="none" stroke="#4A6DAA" stroke-width="1.4" points="64.1,684.84 75.7,683.8 87.3,682.5 98.89,681.73 110.49,680.43 122.09,678.96 133.69,677.06 145.28,674.73 156.88,672.14 168.48,669.81 174.28,754.2 181.24,966.66"/>
<g fill="#1D74BC"><path d="M64.1 678.37L69.35 688.07L58.85 688.07Z"/><path d="M75.7 677.33L80.95 687.03L70.45 687.03Z"/><path d="M87.3 676.04L92.55 685.74L82.05 685.74Z"/><path d="M98.89 675.26L104.14 684.96L93.64 684.96Z"/><path d="M110.49 673.96L115.74 683.66L105.24 683.66Z"/><path d="M122.09 672.5L127.34 682.2L116.84 682.2Z"/><path d="M133.69 670.59L138.94 680.29L128.44 680.29Z"/><path d="M145.28 668.26L150.53 677.96L140.03 677.96Z"/><path d="M156.88 665.67L162.13 675.37L151.63 675.37Z"/><path d="M168.48 663.34L173.73 673.04L163.23 673.04Z"/><path d="M174.28 747.73L179.53 757.43L169.03 757.43Z"/><path d="M181.24 960.19L186.49 969.89L175.99 969.89Z"/></g>
</g>
<path d="M180.08 967.2V960.7 M296.06 967.2V960.7 M412.03 967.2V960.7 M528.01 967.2V960.7 M64.1 880.82H70.6 M64.1 794.44H70.6 M64.1 708.06H70.6 M64.1 621.68H70.6" stroke="#333333" stroke-width="1.3" fill="none"/>
<rect x="64.1" y="535.3" width="521.9" height="431.9" fill="none" stroke="#333333" stroke-width="1.3"/>
<g><text transform="translate(56.1,974.65) scale(1,1.04)" text-anchor="end">0</text><text transform="translate(56.1,888.27) scale(1,1.04)" text-anchor="end">1</text><text transform="translate(56.1,801.89) scale(1,1.04)" text-anchor="end">2</text><text transform="translate(56.1,715.51) scale(1,1.04)" text-anchor="end">3</text><text transform="translate(56.1,629.13) scale(1,1.04)" text-anchor="end">4</text><text transform="translate(56.1,542.75) scale(1,1.04)" text-anchor="end">5</text><text transform="translate(64.1,995.3) scale(1,1.04)" text-anchor="middle">600</text><text transform="translate(180.08,995.3) scale(1,1.04)" text-anchor="middle">800</text><text transform="translate(296.06,995.3) scale(1,1.04)" text-anchor="middle">1000</text><text transform="translate(412.03,995.3) scale(1,1.04)" text-anchor="middle">1200</text><text transform="translate(528.01,995.3) scale(1,1.04)" text-anchor="middle">1400</text></g>
<text transform="translate(324.6,1026.9) scale(1,1.04)" text-anchor="middle">Temperature / <tspan font-size="17" dy="-8">o</tspan><tspan dy="8">C</tspan></text>
<text transform="translate(24.6,761.2) rotate(-90) scale(1,1.04)" text-anchor="middle">Mass fraction / %</text>
<text transform="translate(77.7,567) scale(1,1.04)">(d)</text>
<text transform="translate(306.2,603.8) scale(1,1.04)">0.15%Ti</text>
<line x1="413.1" y1="559.4" x2="467.7" y2="559.4" stroke="#000000" stroke-width="1.3"/>
<g fill="#000"><rect x="436.05" y="554.9" width="8.5" height="9"/></g>
<line x1="413.1" y1="589.6" x2="467.7" y2="589.6" stroke="#DA5349" stroke-width="1.3"/>
<g fill="#EC5244"><ellipse cx="440.3" cy="589.6" rx="4.6" ry="4.85"/></g>
<line x1="413.1" y1="625.5" x2="467.7" y2="625.5" stroke="#4A6DAA" stroke-width="1.3"/>
<g fill="#1D74BC"><path d="M440.3 618.83L445.8 628.83L434.8 628.83Z"/></g>
<text transform="translate(474.1,568.5) scale(1,1.04)"><tspan font-style="italic">M</tspan>C</text>
<text transform="translate(474.1,599.1) scale(1,1.04)"><tspan font-style="italic">M</tspan><tspan font-size="17" dx="-1.6" dy="6.8">6</tspan><tspan dy="-6.8">C</tspan></text>
<text transform="translate(474.1,635) scale(1,1.04)"><tspan font-style="italic">M</tspan><tspan font-size="17" dx="-1.6" dy="6.8">23</tspan><tspan dy="-6.8">C</tspan><tspan font-size="17" dy="6.8">6</tspan></text>
<defs><linearGradient id="ge" x1="0" y1="0" x2="1" y2="1"><stop offset="0" stop-color="#F7B3B8"/><stop offset="0.15" stop-color="#F7B8BC"/><stop offset="0.27" stop-color="#F8C3C6"/><stop offset="0.5" stop-color="#FAD9DC"/><stop offset="0.74" stop-color="#FAF1F2"/><stop offset="0.87" stop-color="#FAFAFB"/><stop offset="1" stop-color="#FAFAFB"/></linearGradient><clipPath id="ce"><rect x="670.6" y="540.3" width="517.3" height="427.9"/></clipPath></defs>
<rect x="670.6" y="540.3" width="517.3" height="427.9" fill="url(#ge)"/>
<g clip-path="url(#ce)">
<polyline fill="none" stroke="#000" stroke-width="1.8" points="676.35,914.2 687.84,914.12 699.34,914.04 710.83,913.96 722.33,913.87 733.83,913.79 745.32,913.71 756.82,913.63 766.59,913.56 769.46,913.54 772.34,913.52 775.21,913.5 778.08,913.48 783.83,913.44 786.71,913.44 789.58,913.48 792.45,913.51 795.33,913.55 797.63,913.58 800.5,913.61 803.37,913.64 806.25,913.68 809.12,913.71 812,913.75 820.04,913.85 831.54,913.99 843.03,914.13 854.53,914.26 866.02,914.4 875.8,914.52 878.67,914.56 881.54,914.59 884.42,914.63 887.29,914.79 894.76,915.23 906.26,915.74 917.75,916.17 929.25,916.85 940.75,917.54 952.24,918.22 963.74,919.59 975.23,920.7 986.73,922.07 998.22,923.61 1009.72,924.9 1021.21,926.52 1032.71,928.66 1044.21,930.72 1055.7,933.2 1067.2,935.68 1078.69,938.5 1090.19,941.5 1101.68,944.84 1113.18,948.6 1124.67,952.8 1135.6,956.39 1139.62,966.4"/>
<g fill="#000"><rect x="672.1" y="909.7" width="8.5" height="9"/><rect x="683.59" y="909.62" width="8.5" height="9"/><rect x="695.09" y="909.54" width="8.5" height="9"/><rect x="706.58" y="909.46" width="8.5" height="9"/><rect x="718.08" y="909.37" width="8.5" height="9"/><rect x="729.58" y="909.29" width="8.5" height="9"/><rect x="741.07" y="909.21" width="8.5" height="9"/><rect x="752.57" y="909.13" width="8.5" height="9"/><rect x="762.34" y="909.06" width="8.5" height="9"/><rect x="765.21" y="909.04" width="8.5" height="9"/><rect x="768.09" y="909.02" width="8.5" height="9"/><rect x="770.96" y="909" width="8.5" height="9"/><rect x="773.83" y="908.98" width="8.5" height="9"/><rect x="779.58" y="908.94" width="8.5" height="9"/><rect x="782.46" y="908.94" width="8.5" height="9"/><rect x="785.33" y="908.98" width="8.5" height="9"/><rect x="788.2" y="909.01" width="8.5" height="9"/><rect x="791.08" y="909.05" width="8.5" height="9"/><rect x="793.38" y="909.08" width="8.5" height="9"/><rect x="796.25" y="909.11" width="8.5" height="9"/><rect x="799.12" y="909.14" width="8.5" height="9"/><rect x="802" y="909.18" width="8.5" height="9"/><rect x="804.87" y="909.21" width="8.5" height="9"/><rect x="807.75" y="909.25" width="8.5" height="9"/><rect x="815.79" y="909.35" width="8.5" height="9"/><rect x="827.29" y="909.49" width="8.5" height="9"/><rect x="838.78" y="909.63" width="8.5" height="9"/><rect x="850.28" y="909.76" width="8.5" height="9"/><rect x="861.77" y="909.9" width="8.5" height="9"/><rect x="871.55" y="910.02" width="8.5" height="9"/><rect x="874.42" y="910.06" width="8.5" height="9"/><rect x="877.29" y="910.09" width="8.5" height="9"/><rect x="880.17" y="910.13" width="8.5" height="9"/><rect x="883.04" y="910.29" width="8.5" height="9"/><rect x="890.51" y="910.73" width="8.5" height="9"/><rect x="902.01" y="911.24" width="8.5" height="9"/><rect x="913.5" y="911.67" width="8.5" height="9"/><rect x="925" y="912.35" width="8.5" height="9"/><rect x="936.5" y="913.04" width="8.5" height="9"/><rect x="947.99" y="913.72" width="8.5" height="9"/><rect x="959.49" y="915.09" width="8.5" height="9"/><rect x="970.98" y="916.2" width="8.5" height="9"/><rect x="982.48" y="917.57" width="8.5" height="9"/><rect x="993.97" y="919.11" width="8.5" height="9"/><rect x="1005.47" y="920.4" width="8.5" height="9"/><rect x="1016.96" y="922.02" width="8.5" height="9"/><rect x="1028.46" y="924.16" width="8.5" height="9"/><rect x="1039.96" y="926.22" width="8.5" height="9"/><rect x="1051.45" y="928.7" width="8.5" height="9"/><rect x="1062.95" y="931.18" width="8.5" height="9"/><rect x="1074.44" y="934" width="8.5" height="9"/><rect x="1085.94" y="937" width="8.5" height="9"/><rect x="1097.43" y="940.34" width="8.5" height="9"/><rect x="1108.93" y="944.1" width="8.5" height="9"/><rect x="1120.42" y="948.3" width="8.5" height="9"/><rect x="1131.35" y="951.89" width="8.5" height="9"/><rect x="1135.37" y="961.9" width="8.5" height="9"/></g>
<polyline fill="none" stroke="#DA5349" stroke-width="1.3" stroke-linejoin="round" points="676.35,740.99 687.84,742.7 699.34,745.18 710.83,748 722.33,751.6 733.83,755.79 745.32,760.67 756.82,767.09 768.31,774.87 775.78,780.44 785.9,726.78 787.22,715.48 791.88,725.67 800.27,742.27 809.01,757.5 820.5,781.29 831.71,806.88 843.21,835.98 854.53,867.9 866.02,903.07 877.52,942.1 884.59,968.2"/>
<g fill="#EC5244"><ellipse cx="676.35" cy="740.99" rx="4.6" ry="4.85"/><ellipse cx="687.84" cy="742.7" rx="4.6" ry="4.85"/><ellipse cx="699.34" cy="745.18" rx="4.6" ry="4.85"/><ellipse cx="710.83" cy="748" rx="4.6" ry="4.85"/><ellipse cx="722.33" cy="751.6" rx="4.6" ry="4.85"/><ellipse cx="733.83" cy="755.79" rx="4.6" ry="4.85"/><ellipse cx="745.32" cy="760.67" rx="4.6" ry="4.85"/><ellipse cx="756.82" cy="767.09" rx="4.6" ry="4.85"/><ellipse cx="768.31" cy="774.87" rx="4.6" ry="4.85"/><ellipse cx="775.78" cy="780.44" rx="4.6" ry="4.85"/><ellipse cx="785.9" cy="726.78" rx="4.6" ry="4.85"/><ellipse cx="791.88" cy="725.67" rx="4.6" ry="4.85"/><ellipse cx="800.27" cy="742.27" rx="4.6" ry="4.85"/><ellipse cx="809.01" cy="757.5" rx="4.6" ry="4.85"/><ellipse cx="820.5" cy="781.29" rx="4.6" ry="4.85"/><ellipse cx="831.71" cy="806.88" rx="4.6" ry="4.85"/><ellipse cx="843.21" cy="835.98" rx="4.6" ry="4.85"/><ellipse cx="854.53" cy="867.9" rx="4.6" ry="4.85"/><ellipse cx="866.02" cy="903.07" rx="4.6" ry="4.85"/><ellipse cx="877.52" cy="942.1" rx="4.6" ry="4.85"/><ellipse cx="884.59" cy="968.2" rx="4.6" ry="4.85"/></g>
<polyline fill="none" stroke="#4A6DAA" stroke-width="1.4" points="670.6,715.76 682.1,714.73 693.59,713.62 705.09,712.5 716.58,711.14 728.08,709.85 739.57,707.71 751.07,705.49 762.56,703.01 774.06,700.52 779.98,771.9 786.71,967.68"/>
<g fill="#1D74BC"><path d="M670.6 709.29L675.85 718.99L665.35 718.99Z"/><path d="M682.1 708.26L687.35 717.96L676.85 717.96Z"/><path d="M693.59 707.15L698.84 716.85L688.34 716.85Z"/><path d="M705.09 706.04L710.34 715.74L699.84 715.74Z"/><path d="M716.58 704.67L721.83 714.37L711.33 714.37Z"/><path d="M728.08 703.38L733.33 713.08L722.83 713.08Z"/><path d="M739.57 701.25L744.82 710.95L734.32 710.95Z"/><path d="M751.07 699.02L756.32 708.72L745.82 708.72Z"/><path d="M762.56 696.54L767.81 706.24L757.31 706.24Z"/><path d="M774.06 694.06L779.31 703.76L768.81 703.76Z"/><path d="M779.98 765.43L785.23 775.13L774.73 775.13Z"/><path d="M786.71 961.21L791.96 970.91L781.46 970.91Z"/></g>
</g>
<path d="M785.56 968.2V961.7 M900.51 968.2V961.7 M1015.47 968.2V961.7 M1130.42 968.2V961.7 M670.6 882.62H677.1 M670.6 797.04H677.1 M670.6 711.46H677.1 M670.6 625.88H677.1" stroke="#333333" stroke-width="1.3" fill="none"/>
<rect x="670.6" y="540.3" width="517.3" height="427.9" fill="none" stroke="#333333" stroke-width="1.3"/>
<g><text transform="translate(662.8,976.05) scale(1,1.04)" text-anchor="end">0</text><text transform="translate(662.8,890.47) scale(1,1.04)" text-anchor="end">1</text><text transform="translate(662.8,804.89) scale(1,1.04)" text-anchor="end">2</text><text transform="translate(662.8,719.31) scale(1,1.04)" text-anchor="end">3</text><text transform="translate(662.8,633.73) scale(1,1.04)" text-anchor="end">4</text><text transform="translate(662.8,548.15) scale(1,1.04)" text-anchor="end">5</text><text transform="translate(670.6,995.3) scale(1,1.04)" text-anchor="middle">600</text><text transform="translate(785.56,995.3) scale(1,1.04)" text-anchor="middle">800</text><text transform="translate(900.51,995.3) scale(1,1.04)" text-anchor="middle">1000</text><text transform="translate(1015.47,995.3) scale(1,1.04)" text-anchor="middle">1200</text><text transform="translate(1130.42,995.3) scale(1,1.04)" text-anchor="middle">1400</text></g>
<text transform="translate(929.4,1027.5) scale(1,1.04)" text-anchor="middle">Temperature / <tspan font-size="17" dy="-8">o</tspan><tspan dy="8">C</tspan></text>
<text transform="translate(633.3,754.2) rotate(-90) scale(1,1.04)" text-anchor="middle">Mass fraction / %</text>
<text transform="translate(681.4,574) scale(1,1.04)">(e)</text>
<text transform="translate(931.3,611.5) scale(1,1.04)">0.2%Ti</text>
<line x1="1021.8" y1="570.5" x2="1075.6" y2="570.5" stroke="#000000" stroke-width="1.3"/>
<g fill="#000"><rect x="1044.45" y="566" width="8.5" height="9"/></g>
<line x1="1021.8" y1="600.5" x2="1075.6" y2="600.5" stroke="#DA5349" stroke-width="1.3"/>
<g fill="#EC5244"><ellipse cx="1048.7" cy="600.5" rx="4.6" ry="4.85"/></g>
<line x1="1021.8" y1="636" x2="1075.6" y2="636" stroke="#4A6DAA" stroke-width="1.3"/>
<g fill="#1D74BC"><path d="M1048.7 629.33L1054.2 639.33L1043.2 639.33Z"/></g>
<text transform="translate(1082.4,579.5) scale(1,1.04)"><tspan font-style="italic">M</tspan>C</text>
<text transform="translate(1082.4,609.9) scale(1,1.04)"><tspan font-style="italic">M</tspan><tspan font-size="17" dx="-1.6" dy="6.8">6</tspan><tspan dy="-6.8">C</tspan></text>
<text transform="translate(1082.4,645.7) scale(1,1.04)"><tspan font-style="italic">M</tspan><tspan font-size="17" dx="-1.6" dy="6.8">23</tspan><tspan dy="-6.8">C</tspan><tspan font-size="17" dy="6.8">6</tspan></text>
<defs><linearGradient id="gf" x1="0" y1="0" x2="1" y2="1"><stop offset="0" stop-color="#F7B3B8"/><stop offset="0.15" stop-color="#F7B8BC"/><stop offset="0.27" stop-color="#F8C3C6"/><stop offset="0.5" stop-color="#FAD9DC"/><stop offset="0.74" stop-color="#FAF1F2"/><stop offset="0.87" stop-color="#FAFAFB"/><stop offset="1" stop-color="#FAFAFB"/></linearGradient><clipPath id="cf"><rect x="1274.4" y="540.3" width="521.2" height="425.1"/></clipPath></defs>
<rect x="1274.4" y="540.3" width="521.2" height="425.1" fill="url(#gf)"/>
<g clip-path="url(#cf)">
<polyline fill="none" stroke="#000" stroke-width="1.8" points="1280.19,901.81 1291.77,901.7 1303.36,901.59 1314.94,901.48 1326.52,901.38 1338.1,901.27 1349.68,901.16 1361.27,901.05 1371.11,900.96 1374.01,900.94 1376.9,900.91 1379.8,900.88 1382.69,900.85 1388.48,900.8 1391.38,900.81 1394.28,900.86 1397.17,900.92 1404.7,901.07 1407.6,901.12 1410.49,901.18 1413.39,901.23 1416.28,901.29 1424.97,901.46 1436.55,901.68 1448.13,901.91 1459.72,902.13 1471.3,902.36 1479.98,902.53 1482.88,902.58 1485.78,902.64 1488.67,902.7 1491.57,902.75 1500.25,902.94 1511.84,903.59 1523.42,904.16 1535,905.24 1546.58,905.94 1558.16,906.95 1569.75,907.93 1581.33,909.2 1592.91,910.73 1604.49,912.43 1616.08,914.05 1627.66,916.17 1639.24,917.87 1650.82,920.25 1662.4,922.89 1673.99,925.7 1685.57,929.01 1697.15,932.33 1708.73,936.15 1720.32,939.81 1731.9,943.97 1743.48,948.4 1746.95,963.87"/>
<g fill="#000"><rect x="1275.94" y="897.31" width="8.5" height="9"/><rect x="1287.52" y="897.2" width="8.5" height="9"/><rect x="1299.11" y="897.09" width="8.5" height="9"/><rect x="1310.69" y="896.98" width="8.5" height="9"/><rect x="1322.27" y="896.88" width="8.5" height="9"/><rect x="1333.85" y="896.77" width="8.5" height="9"/><rect x="1345.43" y="896.66" width="8.5" height="9"/><rect x="1357.02" y="896.55" width="8.5" height="9"/><rect x="1366.86" y="896.46" width="8.5" height="9"/><rect x="1369.76" y="896.44" width="8.5" height="9"/><rect x="1372.65" y="896.41" width="8.5" height="9"/><rect x="1375.55" y="896.38" width="8.5" height="9"/><rect x="1378.44" y="896.35" width="8.5" height="9"/><rect x="1384.23" y="896.3" width="8.5" height="9"/><rect x="1387.13" y="896.31" width="8.5" height="9"/><rect x="1390.03" y="896.36" width="8.5" height="9"/><rect x="1392.92" y="896.42" width="8.5" height="9"/><rect x="1400.45" y="896.57" width="8.5" height="9"/><rect x="1403.35" y="896.62" width="8.5" height="9"/><rect x="1406.24" y="896.68" width="8.5" height="9"/><rect x="1409.14" y="896.73" width="8.5" height="9"/><rect x="1412.03" y="896.79" width="8.5" height="9"/><rect x="1420.72" y="896.96" width="8.5" height="9"/><rect x="1432.3" y="897.18" width="8.5" height="9"/><rect x="1443.88" y="897.41" width="8.5" height="9"/><rect x="1455.47" y="897.63" width="8.5" height="9"/><rect x="1467.05" y="897.86" width="8.5" height="9"/><rect x="1475.73" y="898.03" width="8.5" height="9"/><rect x="1478.63" y="898.08" width="8.5" height="9"/><rect x="1481.53" y="898.14" width="8.5" height="9"/><rect x="1484.42" y="898.2" width="8.5" height="9"/><rect x="1487.32" y="898.25" width="8.5" height="9"/><rect x="1496" y="898.44" width="8.5" height="9"/><rect x="1507.59" y="899.09" width="8.5" height="9"/><rect x="1519.17" y="899.66" width="8.5" height="9"/><rect x="1530.75" y="900.74" width="8.5" height="9"/><rect x="1542.33" y="901.44" width="8.5" height="9"/><rect x="1553.91" y="902.45" width="8.5" height="9"/><rect x="1565.5" y="903.43" width="8.5" height="9"/><rect x="1577.08" y="904.7" width="8.5" height="9"/><rect x="1588.66" y="906.23" width="8.5" height="9"/><rect x="1600.24" y="907.93" width="8.5" height="9"/><rect x="1611.83" y="909.55" width="8.5" height="9"/><rect x="1623.41" y="911.67" width="8.5" height="9"/><rect x="1634.99" y="913.37" width="8.5" height="9"/><rect x="1646.57" y="915.75" width="8.5" height="9"/><rect x="1658.15" y="918.39" width="8.5" height="9"/><rect x="1669.74" y="921.2" width="8.5" height="9"/><rect x="1681.32" y="924.51" width="8.5" height="9"/><rect x="1692.9" y="927.83" width="8.5" height="9"/><rect x="1704.48" y="931.65" width="8.5" height="9"/><rect x="1716.07" y="935.31" width="8.5" height="9"/><rect x="1727.65" y="939.47" width="8.5" height="9"/><rect x="1739.23" y="943.9" width="8.5" height="9"/><rect x="1742.7" y="959.37" width="8.5" height="9"/></g>
<polyline fill="none" stroke="#DA5349" stroke-width="1.3" stroke-linejoin="round" points="1274.4,733.81 1285.98,735.08 1297.56,737.21 1309.15,741.63 1320.73,745.03 1332.31,748.85 1343.89,753.7 1355.48,759.4 1367.06,766.37 1378.64,774.53 1384.6,762.88 1391.61,717.82 1401.98,740.69 1407.48,750.72 1419.29,772.83 1430.59,797.57 1442.23,824.44 1453.92,855.21 1465.39,888.46 1477.03,925.44 1488.5,965.4"/>
<g fill="#EC5244"><ellipse cx="1274.4" cy="733.81" rx="4.6" ry="4.85"/><ellipse cx="1285.98" cy="735.08" rx="4.6" ry="4.85"/><ellipse cx="1297.56" cy="737.21" rx="4.6" ry="4.85"/><ellipse cx="1309.15" cy="741.63" rx="4.6" ry="4.85"/><ellipse cx="1320.73" cy="745.03" rx="4.6" ry="4.85"/><ellipse cx="1332.31" cy="748.85" rx="4.6" ry="4.85"/><ellipse cx="1343.89" cy="753.7" rx="4.6" ry="4.85"/><ellipse cx="1355.48" cy="759.4" rx="4.6" ry="4.85"/><ellipse cx="1367.06" cy="766.37" rx="4.6" ry="4.85"/><ellipse cx="1378.64" cy="774.53" rx="4.6" ry="4.85"/><ellipse cx="1384.6" cy="762.88" rx="4.6" ry="4.85"/><ellipse cx="1391.61" cy="717.82" rx="4.6" ry="4.85"/><ellipse cx="1401.98" cy="740.69" rx="4.6" ry="4.85"/><ellipse cx="1407.48" cy="750.72" rx="4.6" ry="4.85"/><ellipse cx="1419.29" cy="772.83" rx="4.6" ry="4.85"/><ellipse cx="1430.59" cy="797.57" rx="4.6" ry="4.85"/><ellipse cx="1442.23" cy="824.44" rx="4.6" ry="4.85"/><ellipse cx="1453.92" cy="855.21" rx="4.6" ry="4.85"/><ellipse cx="1465.39" cy="888.46" rx="4.6" ry="4.85"/><ellipse cx="1477.03" cy="925.44" rx="4.6" ry="4.85"/><ellipse cx="1488.5" cy="965.4" rx="4.6" ry="4.85"/></g>
<polyline fill="none" stroke="#4A6DAA" stroke-width="1.4" points="1274.4,741.31 1285.98,740.37 1297.56,739.61 1309.15,738.33 1320.73,736.97 1332.31,734.93 1343.89,733.06 1355.48,730.94 1367.06,728.3 1378.64,725.75 1384.6,784.58 1391.38,964.89"/>
<g fill="#1D74BC"><path d="M1274.4 734.84L1279.65 744.54L1269.15 744.54Z"/><path d="M1285.98 733.91L1291.23 743.61L1280.73 743.61Z"/><path d="M1297.56 733.14L1302.81 742.84L1292.31 742.84Z"/><path d="M1309.15 731.87L1314.4 741.57L1303.9 741.57Z"/><path d="M1320.73 730.51L1325.98 740.21L1315.48 740.21Z"/><path d="M1332.31 728.47L1337.56 738.17L1327.06 738.17Z"/><path d="M1343.89 726.6L1349.14 736.3L1338.64 736.3Z"/><path d="M1355.48 724.47L1360.73 734.17L1350.23 734.17Z"/><path d="M1367.06 721.83L1372.31 731.53L1361.81 731.53Z"/><path d="M1378.64 719.28L1383.89 728.98L1373.39 728.98Z"/><path d="M1384.6 778.12L1389.85 787.82L1379.35 787.82Z"/><path d="M1391.38 958.42L1396.63 968.12L1386.13 968.12Z"/></g>
</g>
<path d="M1390.22 965.4V958.9 M1506.04 965.4V958.9 M1621.87 965.4V958.9 M1737.69 965.4V958.9 M1274.4 880.38H1280.9 M1274.4 795.36H1280.9 M1274.4 710.34H1280.9 M1274.4 625.32H1280.9" stroke="#333333" stroke-width="1.3" fill="none"/>
<rect x="1274.4" y="540.3" width="521.2" height="425.1" fill="none" stroke="#333333" stroke-width="1.3"/>
<g><text transform="translate(1266.4,972.85) scale(1,1.04)" text-anchor="end">0</text><text transform="translate(1266.4,887.83) scale(1,1.04)" text-anchor="end">1</text><text transform="translate(1266.4,802.81) scale(1,1.04)" text-anchor="end">2</text><text transform="translate(1266.4,717.79) scale(1,1.04)" text-anchor="end">3</text><text transform="translate(1266.4,632.77) scale(1,1.04)" text-anchor="end">4</text><text transform="translate(1266.4,547.75) scale(1,1.04)" text-anchor="end">5</text><text transform="translate(1274.4,992.8) scale(1,1.04)" text-anchor="middle">600</text><text transform="translate(1390.22,992.8) scale(1,1.04)" text-anchor="middle">800</text><text transform="translate(1506.04,992.8) scale(1,1.04)" text-anchor="middle">1000</text><text transform="translate(1621.87,992.8) scale(1,1.04)" text-anchor="middle">1200</text><text transform="translate(1737.69,992.8) scale(1,1.04)" text-anchor="middle">1400</text></g>
<text transform="translate(1534.9,1027.5) scale(1,1.04)" text-anchor="middle">Temperature / <tspan font-size="17" dy="-8">o</tspan><tspan dy="8">C</tspan></text>
<text transform="translate(1235.8,753) rotate(-90) scale(1,1.04)" text-anchor="middle">Mass fraction / %</text>
<text transform="translate(1285.7,570.2) scale(1,1.04)">(f)</text>
<text transform="translate(1527.1,603.6) scale(1,1.04)">0.25%Ti</text>
<line x1="1634.1" y1="562.9" x2="1688.7" y2="562.9" stroke="#000000" stroke-width="1.3"/>
<g fill="#000"><rect x="1657.15" y="558.4" width="8.5" height="9"/></g>
<line x1="1634.1" y1="592.8" x2="1688.7" y2="592.8" stroke="#DA5349" stroke-width="1.3"/>
<g fill="#EC5244"><ellipse cx="1661.4" cy="592.8" rx="4.6" ry="4.85"/></g>
<line x1="1634.1" y1="628.4" x2="1688.7" y2="628.4" stroke="#4A6DAA" stroke-width="1.3"/>
<g fill="#1D74BC"><path d="M1661.4 621.73L1666.9 631.73L1655.9 631.73Z"/></g>
<text transform="translate(1695.1,572) scale(1,1.04)"><tspan font-style="italic">M</tspan>C</text>
<text transform="translate(1695.1,602.6) scale(1,1.04)"><tspan font-style="italic">M</tspan><tspan font-size="17" dx="-1.6" dy="6.8">6</tspan><tspan dy="-6.8">C</tspan></text>
<text transform="translate(1695.1,637.7) scale(1,1.04)"><tspan font-style="italic">M</tspan><tspan font-size="17" dx="-1.6" dy="6.8">23</tspan><tspan dy="-6.8">C</tspan><tspan font-size="17" dy="6.8">6</tspan></text>
</svg></body></html>
